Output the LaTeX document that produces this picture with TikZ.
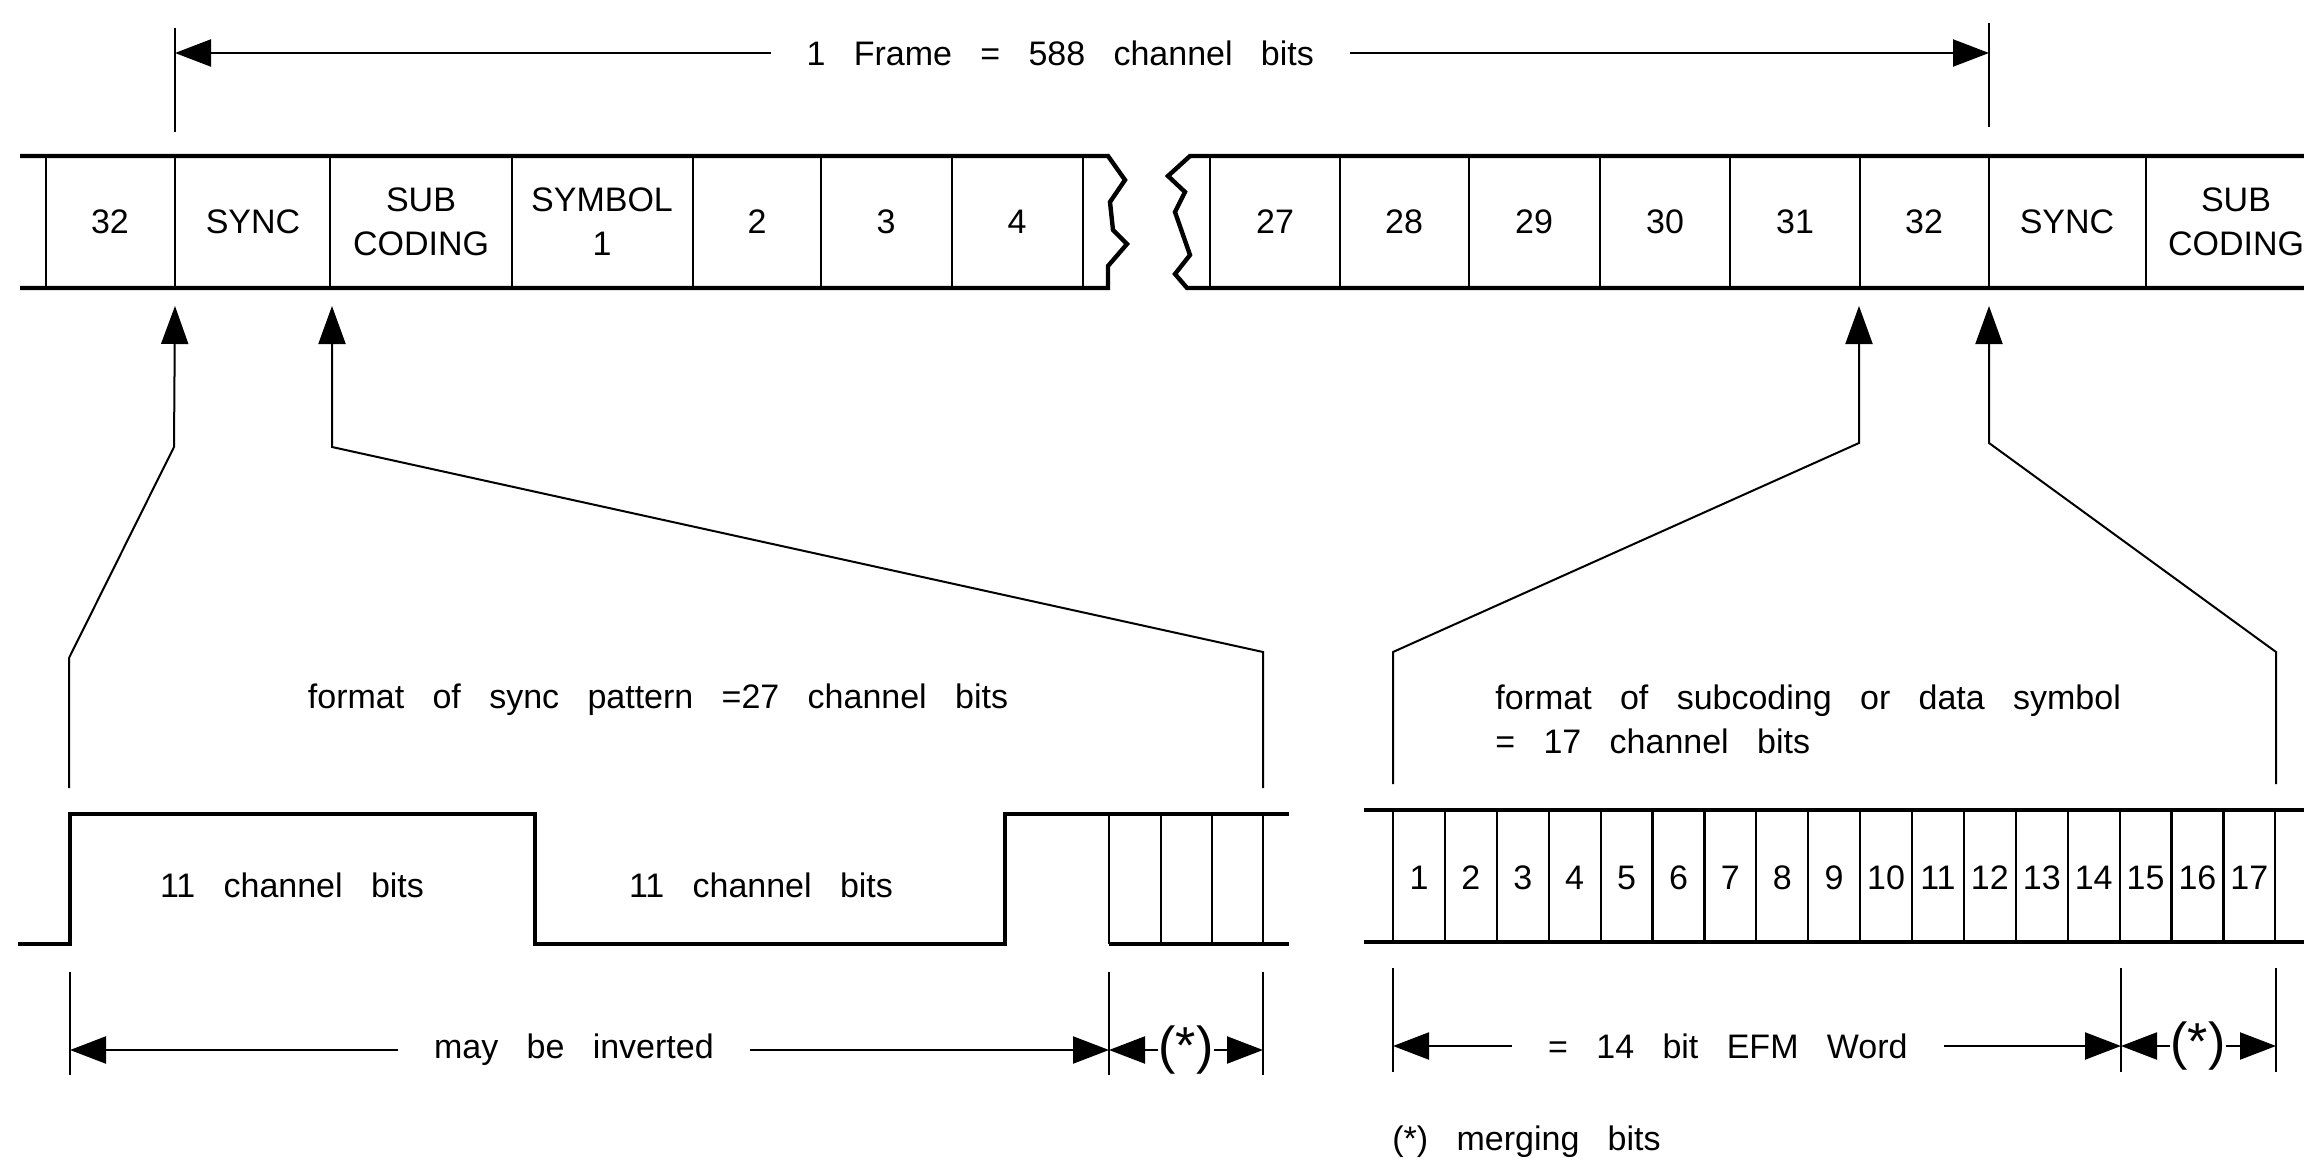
\documentclass[tikz,border=0pt]{standalone}
\usepackage{fontspec}
\setmainfont[WordSpace=3]{Liberation Sans}
\usetikzlibrary{arrows.meta}
\begin{document}
\begin{tikzpicture}[x=0.5pt,y=-0.5pt,
		outer/.style={line width=2.2pt},
		cell/.style={line width=1.1pt},
		link/.style={line width=1pt,-{Triangle[length=19pt,width=13.5pt]}},
		dim/.style={line width=1.1pt,{Triangle[length=18pt,width=13.5pt]}-{Triangle[length=18pt,width=13.5pt]}},
		half/.style={line width=1.1pt,-{Triangle[length=18pt,width=13.5pt]}},
		lbl/.style={font=\fontsize{17}{22}\selectfont,align=center,inner sep=1pt},
		gap/.style={lbl,fill=white,inner xsep=18pt},
		star/.style={font=\fontsize{26}{30}\selectfont,inner ysep=1pt,inner xsep=0pt}]
		\useasboundingbox (0,0) rectangle (2304,1161);
		% frame strip, left part
		\draw[outer] (20,156) -- (1108,156) -- (1125,180) -- (1110,202) -- (1113,230) -- (1127,244) -- (1108,266) -- (1108,288) -- (20,288);
		\foreach \x in {46,175,330,512,693,821,952,1083} \draw[cell] (\x,156)--(\x,288);
		\foreach \x/\t [count=\i] in {110/32,253/SYNC,421/{SUB\\CODING},602/{SYMBOL\\1},757/2,886/3,1017/4}
			\node[lbl] (l\i) at (\x,222) {\t};
		% frame strip, right part
		\draw[outer] (2310,156) -- (1190,156) -- (1168,176) -- (1185,192) -- (1175,212) -- (1190,255) -- (1175,274) -- (1187,288) -- (2310,288);
		\foreach \x in {1210,1340,1469,1600,1730,1860,1989,2146} \draw[cell] (\x,156)--(\x,288);
		\foreach \x/\t [count=\i] in {1275/27,1404/28,1534/29,1665/30,1795/31,1924/32,2067/SYNC,2236/{SUB\\CODING}}
			\node[lbl] (r\i) at (\x,222) {\t};
		% one frame
		\draw[cell] (175,28)--(175,132);
		\draw[cell] (1989,23)--(1989,127);
		\coordinate (fl) at (175,53); \coordinate (fr) at (1989,53);
		\draw[dim] (fl) -- (fr) node[gap,pos=0.488] (frame) {1 Frame = 588 channel bits};
		% links from the strip to the details
		\coordinate (t1) at (175,306); \coordinate (e1) at (69,788);
		\coordinate (t2) at (332,306); \coordinate (e2) at (1263,788);
		\coordinate (t3) at (1859,306); \coordinate (e3) at (1393,784);
		\coordinate (t4) at (1989,306); \coordinate (e4) at (2276,784);
		\draw[link] (e1) -- (69,658) -- (174,447) -- (t1);
		\draw[link] (e2) -- (1263,652) -- (332,447) -- (t2);
		\draw[link] (e3) -- (1393,652) -- (1859,443) -- (t3);
		\draw[link] (e4) -- (2276,652) -- (1989,443) -- (t4);
		% sync pattern
		\node[lbl] (syncfmt) at (658,700) {format of sync pattern =27 channel bits};
		\draw[outer] (18,944) -- (70,944) -- (70,814) -- (535,814) -- (535,944) -- (1005,944) -- (1005,814) -- (1289,814);
		\draw[outer] (1109,944) -- (1289,944);
		\foreach \x in {1109,1161,1212,1263} \draw[cell] (\x,814)--(\x,944);
		\node[lbl] (hi) at (292,885) {11 channel bits};
		\node[lbl] (lo) at (761,885) {11 channel bits};
		\foreach \x in {70,1109,1263} \draw[cell] (\x,972)--(\x,1075);
		\draw[dim] (70,1050) -- (1109,1050) node[gap,pos=0.485] (inv) {may be inverted};
		\node[star] (m1) at (1186,1050) {(*)};
		\coordinate (m1l) at (1109,1050); \coordinate (m1r) at (1263,1050);
		\draw[half] (m1.west |- m1l) -- (m1l);
		\draw[half] (m1.east |- m1r) -- (m1r);
		% data symbol
		\node[lbl,align=left,anchor=west] (symfmt) at (1493,719) {format of subcoding or data symbol\\= 17 channel bits};
		\draw[outer] (1364,810) -- (2310,810);
		\draw[outer] (1364,942) -- (2310,942);
		\foreach \i in {0,...,17} \draw[cell] ({1393+51.9*\i},810)--({1393+51.9*\i},942);
		\foreach \i in {1,...,17} \node[lbl] (b\i) at ({1393+51.9*(\i-0.5)},878) {\i};
		\foreach \x in {1393,2121,2276} \draw[cell] (\x,968)--(\x,1072);
		\draw[dim] (1393,1046) -- (2121,1046) node[gap,pos=0.46] (efm) {= 14 bit EFM Word};
		\node[star] (m2) at (2198,1046) {(*)};
		\coordinate (m2l) at (2121,1046); \coordinate (m2r) at (2276,1046);
		\draw[half] (m2.west |- m2l) -- (m2l);
		\draw[half] (m2.east |- m2r) -- (m2r);
		\node[lbl,anchor=west] (note) at (1390,1142) {(*) merging bits};
	\end{tikzpicture}
\end{document}
